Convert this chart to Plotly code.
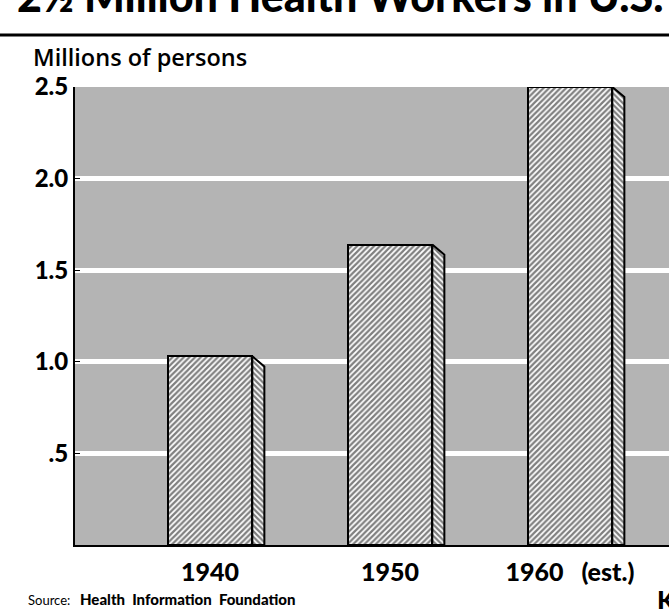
import plotly.graph_objects as go

# ---- data ----
years = ["1940", "1950", "1960\u00a0\u00a0\u00a0(est.)"]
workers_millions = [1.03, 1.64, 2.50]
y_ticks = [0.5, 1.0, 1.5, 2.0, 2.5]
y_tick_labels = [".5", "1.0", "1.5", "2.0", "2.5"]

positions = list(range(len(years)))
bar_w = 0.47
side_dx = 0.067
side_dy = 0.055

FONT = "Lato"

fig = go.Figure()

# front faces
fig.add_trace(go.Bar(
    x=positions, y=workers_millions, width=bar_w,
    marker=dict(color="white", line=dict(color="black", width=2),
                pattern=dict(shape="/", size=4, solidity=0.55,
                             fgcolor="#000000", bgcolor="white")),
    cliponaxis=False, showlegend=False, hoverinfo="skip",
))

# side faces (3-D effect), derived from the data values
for p, v in zip(positions, workers_millions):
    xr = p + bar_w / 2
    fig.add_trace(go.Scatter(
        x=[xr, xr + side_dx, xr + side_dx, xr, xr],
        y=[v, v - side_dy, 0, 0, v],
        mode="lines", fill="toself",
        fillcolor="white",
        fillpattern=dict(shape="\\", size=4, solidity=0.55,
                         fgcolor="#000000", bgcolor="white"),
        line=dict(color="black", width=2),
        cliponaxis=False, showlegend=False, hoverinfo="skip",
    ))

W, H = 669, 609
L, R, T, B = 75, 0, 87, 64

def px_x(px):
    return (px - L) / (W - L - R)

def px_y(py):
    return (H - B - py) / (H - B - T)

fig.update_layout(
    width=W, height=H,
    margin=dict(l=L, r=R, t=T, b=B, autoexpand=False),
    paper_bgcolor="white",
    plot_bgcolor="#b4b4b4",
    font=dict(family=FONT, color="black"),
    bargap=0,
    xaxis=dict(
        range=[-0.75, 2.55], tickmode="array", tickvals=positions, ticktext=years,
        showgrid=False, zeroline=False, showline=True, linecolor="black", linewidth=2,
        ticks="", tickfont=dict(size=25, family=FONT, weight=900),
        ticklabelstandoff=4, automargin=False,
    ),
    yaxis=dict(
        range=[0, 2.5], tickmode="array", tickvals=y_ticks, ticktext=y_tick_labels,
        showgrid=True, gridcolor="white", gridwidth=5, zeroline=False,
        showline=True, linecolor="black", linewidth=2,
        ticks="inside", ticklen=5, tickcolor="black",
        tickfont=dict(size=24, family=FONT, weight=900),
        ticklabelstandoff=0, automargin=False,
    ),
    shapes=[
        dict(type="line", xref="paper", yref="paper",
             x0=px_x(0), x1=px_x(W), y0=px_y(35), y1=px_y(35),
             line=dict(color="black", width=3)),
    ],
    annotations=[
        dict(text="2½ Million Health Workers in U.S.", xref="paper", yref="paper",
             x=px_x(15), y=px_y(-4), xanchor="left", yanchor="middle", showarrow=False,
             font=dict(size=43, family=FONT, weight=900)),
        dict(text="Millions of persons", xref="paper", yref="paper",
             x=px_x(31), y=px_y(57), xanchor="left", yanchor="middle", showarrow=False,
             font=dict(size=23.5, family="Open Sans", weight=600)),
        dict(text="Source:", xref="paper", yref="paper",
             x=px_x(26), y=px_y(600), xanchor="left", yanchor="middle", showarrow=False,
             font=dict(size=13, family=FONT)),
        dict(text="Health  Information  Foundation", xref="paper", yref="paper",
             x=px_x(78), y=px_y(599), xanchor="left", yanchor="middle", showarrow=False,
             font=dict(size=15, family=FONT, weight=900)),
        dict(text="K", xref="paper", yref="paper",
             x=px_x(655), y=px_y(600), xanchor="left", yanchor="middle", showarrow=False,
             font=dict(size=26, family=FONT, weight=900)),
    ],
)

fig.write_html(
    "out.html",
    config={"displayModeBar": False},
    post_script="document.body.style.margin='0';document.body.style.overflow='hidden';",
)
